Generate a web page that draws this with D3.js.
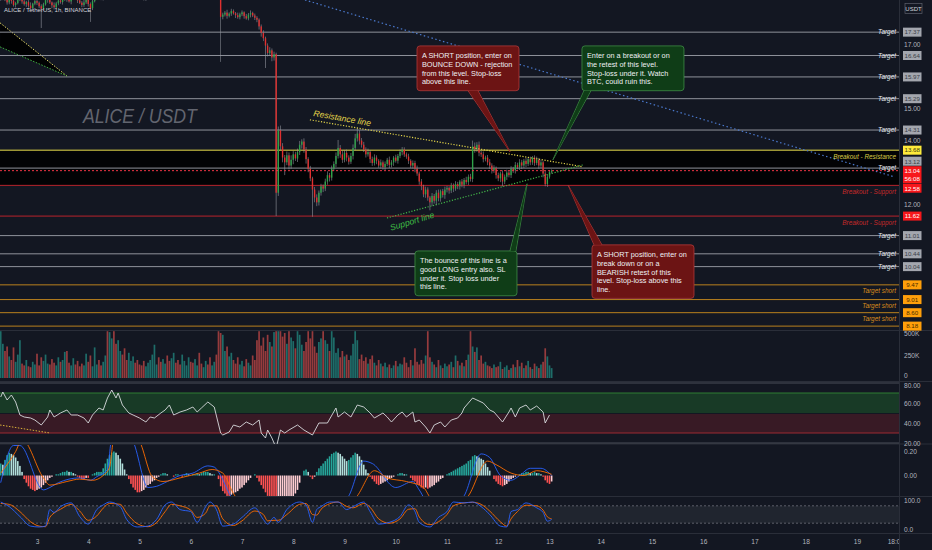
<!DOCTYPE html>
<html>
<head>
<meta charset="utf-8">
<script src="https://cdn.jsdelivr.net/npm/d3@7"></script>
<style>
html, body { margin: 0; padding: 0; background: #131722; }
svg { display: block; font-family: "Liberation Sans", Arial, sans-serif; }
</style>
</head>
<body>
<svg id="chart" width="932" height="550"></svg>
<script>
// ---- data (hourly candles, first one at day 2 07:00) ----
var firstHour = 7, firstOpen = 18.40
var closes = [
  18.45, 18.52, 18.38, 18.30, 18.41, 18.35, 18.22, 18.28, 18.40, 18.46,
  18.33, 18.25, 18.31, 18.20, 18.12, 18.26, 18.34, 18.29, 18.18, 18.10,
  18.24, 18.37, 18.44, 18.30, 18.21, 18.15, 18.27, 18.36, 18.31, 18.40,
  18.48, 18.39, 18.33, 18.45, 18.52, 18.43, 18.36, 18.29, 18.22, 18.30,
  18.41, 18.25, 18.12, 18.34, 18.50, 18.58, 18.49, 18.42, 18.55, 18.61,
  18.52, 18.66, 18.72, 18.60, 18.55, 18.68, 18.80, 18.75, 18.64, 18.58,
  18.70, 18.83, 18.90, 18.78, 18.69, 18.61, 18.50, 18.42, 18.55, 18.63,
  18.71, 18.84, 18.95, 19.02, 18.91, 18.87, 18.98, 19.10, 19.05, 18.96,
  19.08, 19.20, 19.14, 19.03, 18.97, 19.06, 19.12, 19.18, 19.25, 19.11,
  19.02, 19.09, 19.16, 19.04, 18.93, 18.99, 19.07, 18.95, 18.88, 18.97,
  19.03, 18.92, 18.90, 17.85, 17.92, 17.98, 17.88, 17.95, 18.03, 17.96,
  17.90, 17.84, 17.93, 17.99, 17.87, 17.80, 17.92, 17.97, 17.89, 17.82,
  17.76, 17.55, 17.35, 17.18, 16.95, 16.72, 16.80, 16.58, 16.68, 12.35,
  14.30, 13.80, 13.45, 13.30, 13.52, 13.20, 13.38, 13.55, 13.42, 13.62,
  13.85, 13.95, 13.70, 13.40, 13.10, 12.80, 12.45, 12.20, 12.05, 12.35,
  12.55, 12.48, 12.70, 12.90, 12.82, 13.10, 13.25, 13.50, 13.75, 13.55,
  13.38, 13.60, 13.45, 13.32, 13.50, 13.75, 14.05, 14.20, 13.98, 13.85,
  13.70, 13.55, 13.62, 13.40, 13.28, 13.45, 13.35, 13.20, 13.30, 13.15,
  13.25, 13.38, 13.22, 13.30, 13.45, 13.35, 13.50, 13.62, 13.70, 13.55,
  13.48, 13.35, 13.20, 13.28, 13.10, 12.95, 12.70, 12.55, 12.30, 12.45,
  12.20, 12.05, 12.25, 12.10, 12.35, 12.18, 12.40, 12.28, 12.45, 12.50,
  12.42, 12.58, 12.48, 12.62, 12.55, 12.70, 12.60, 12.75, 12.68, 12.85,
  12.78, 13.80, 13.72, 13.85, 13.60, 13.55, 13.40, 13.45, 13.30, 13.20,
  13.05, 13.12, 12.90, 12.80, 12.95, 12.70, 12.85, 12.98, 12.90, 13.10,
  13.05, 13.22, 13.15, 13.30, 13.20, 13.35, 13.25, 13.40, 13.30, 13.45,
  13.28, 13.38, 13.20, 13.30, 12.95, 12.62, 12.85, 13.00, 13.04
]
// wick lengths above / below the body, in cents
var wickUp = [
  6,4,8,5,3,7,9,4,6,5, 8,5,4,6,10,3,5,7,4,6, 5,8,4,6,3,9,5,4,7,6, 4,6,8,5,7,4,3,6,5,8,
  6,4,5,9,3,7,5,6,4,8, 7,5,9,6,4,8,5,7,6,4, 5,8,6,4,7,5,9,3,6,5, 4,7,5,8,6,3,5,9,4,6,
  8,5,6,4,7,5,3,6,8,4, 5,7,4,6,9,5,3,8,6,5, 6,4,8,10,6,5,9,4,7,5, 4,8,5,6,3,7,5,8,4,6,
  5,4,6,8,5,7,10,6,8,5, 12,15,10,8,12,9,14,10,8,11, 12,7,10,8,6,9,5,8,10,7, 8,6,9,12,7,10,8,11,25,9,
  12,8,10,7,9,11,14,18,10,8, 9,7,11,6,8,10,7,5,9,6, 8,6,10,7,5,9,6,8,8,7, 6,9,5,8,7,10,6,8,5,9,
  7,5,9,6,8,10,5,7,9,6, 5,8,6,9,7,5,8,6,10,7, 9,18,12,8,10,7,9,6,8,10, 7,9,5,8,6,10,7,9,5,8,
  6,9,7,10,8,6,9,7,8,5, 7,10,6,8,5,9,7,6,4
]
var wickDn = [
  5,8,4,7,6,9,5,8,4,6, 7,5,9,6,4,8,5,7,6,60, 6,4,8,5,9,7,4,6,5,8, 5,7,4,9,6,5,8,4,7,6,
  5,8,43,6,4,7,9,5,6,4, 8,5,6,9,4,7,6,5,8,6, 7,4,6,8,5,9,4,6,7,5, 6,8,4,7,5,9,6,4,8,5,
  4,7,6,5,9,6,8,4,5,7, 8,5,7,4,6,9,5,7,4,6, 6,7,5,141,8,6,9,5,7,4, 9,5,7,6,8,4,6,9,5,7,
  8,10,12,9,70,11,9,12,10,73, 10,12,15,40,9,12,10,14,8,11, 9,12,10,14,11,9,85,15,12,10, 9,11,8,10,12,9,7,10,8,11,
  10,8,12,9,7,11,8,10,12,9, 8,10,7,12,9,8,11,7,10,8, 9,7,10,8,11,6,9,7,10,8, 7,10,8,9,11,7,10,12,9,11,
  10,25,12,9,14,10,11,8,12,9, 10,8,11,7,9,10,8,11,7,9, 8,10,12,9,11,8,10,7,9,11, 10,8,11,9,12,15,8,10,7,9,
  8,10,7,9,11,8,10,7,9,8, 9,7,10,8,12,7,9,6,5
]
// volume, thousands
var volumes = [
  520,380,300,350,240,200,340,180,260,420, 160,140,200,130,120,180,150,270,140,230,
  190,260,160,150,210,170,140,230,180,200, 290,300,170,140,220,150,190,130,160,140,
  270,180,250,130,340,150,200,140,180,250, 520,510,440,520,380,420,300,260,330,200,
  280,190,240,170,200,150,140,190,130,170, 200,260,370,150,230,180,210,160,250,190,
  220,280,170,200,150,260,190,140,230,180, 170,210,140,280,160,120,190,150,230,140,
  180,260,520,500,480,300,350,240,280,200, 160,230,150,190,130,210,170,140,250,200,
  420,520,360,450,300,480,400,350,510,520, 520,520,460,500,380,520,450,410,330,520,
  480,370,300,400,520,440,520,350,280,400, 440,520,420,380,300,520,450,280,330,230,
  300,240,260,200,250,380,520,420,210,260, 190,230,160,210,250,170,140,200,160,130,
  170,120,150,110,140,190,130,160,150,230, 170,120,200,140,330,180,150,200,160,250,
  520,230,180,150,120,200,140,110,160,130, 150,180,120,250,190,140,170,130,200,260,
  520,350,290,340,200,250,160,180,140,130, 110,150,120,130,180,100,120,140,90,110,
  150,120,200,130,170,110,140,190,120,100, 160,130,110,150,180,330,240,140,110
]
var macdHist = [
  0.10,0.09,0.13,0.17,0.19,0.18,0.17,0.15,0.12,0.08, 0.03,-0.03,-0.06,-0.09,-0.11,-0.12,-0.13,-0.12,-0.11,-0.10,
  -0.08,-0.06,-0.04,-0.02,-0.01,0.00,0.01,0.01,0.02,0.03, 0.03,0.04,0.03,0.03,0.02,0.01,-0.01,-0.02,-0.03,-0.03,
  -0.02,-0.02,0.00,0.01,0.02,0.03,0.03,0.03,0.06,0.10, 0.14,0.17,0.19,0.20,0.19,0.17,0.14,0.10,0.05,0.01,
  -0.03,-0.07,-0.10,-0.12,-0.14,-0.14,-0.13,-0.12,-0.10,-0.08, -0.07,-0.05,-0.04,-0.02,-0.01,0.01,0.02,0.02,0.01,0.00,
  0.00,-0.01,0.01,0.01,0.00,-0.01,0.01,0.02,0.01,0.00, 0.01,0.01,0.02,0.01,0.02,0.03,0.03,0.03,0.02,0.01,
  0.01,0.00,-0.03,-0.09,-0.13,-0.15,-0.17,-0.17,-0.16,-0.15, -0.14,-0.13,-0.11,-0.10,-0.08,-0.06,-0.04,-0.02,0.00,0.01,
  -0.02,-0.05,-0.08,-0.11,-0.14,-0.17,-0.19,-0.21,-0.22,-0.40, -0.35,-0.33,-0.30,-0.28,-0.25,-0.22,-0.20,-0.18,-0.15,-0.12,
  -0.06,0.00,0.04,0.05,0.03,-0.01,-0.03,-0.01,0.03,0.06, 0.08,0.10,0.12,0.14,0.16,0.18,0.19,0.20,0.19,0.18,
  0.16,0.14,0.12,0.13,0.15,0.17,0.19,0.18,0.16,0.13, 0.09,0.05,0.02,-0.01,-0.03,-0.05,-0.07,-0.08,-0.07,-0.06,
  -0.05,-0.04,-0.03,-0.02,-0.01,0.00,0.01,0.02,0.02,0.01, 0.01,0.00,-0.02,-0.04,-0.05,-0.07,-0.08,-0.10,-0.11,-0.10,
  -0.11,-0.10,-0.09,-0.08,-0.06,-0.05,-0.03,-0.02,0.00,0.01, 0.02,0.03,0.04,0.05,0.06,0.07,0.08,0.09,0.10,0.12,
  0.13,0.16,0.17,0.16,0.15,0.14,0.13,0.10,0.07,0.04, 0.00,-0.03,-0.05,-0.07,-0.08,-0.09,-0.08,-0.07,-0.05,-0.03,
  -0.02,-0.01,0.00,0.01,0.02,0.02,0.03,0.03,0.02,0.02, 0.03,0.02,0.02,0.01,-0.01,-0.04,-0.06,-0.07,-0.05
]
var macdHours = [7,13,16,27,30,34,44,49,52,57,59,68,76,80,85,91,97,104,107,110,114,121,161,170,177,181,192,200,203,208,220,224,232,236,241,246,250,255,260,265]
var macdValues = [-0.06,0.25,0.25,-0.12,-0.10,-0.06,-0.02,-0.04,-0.01,0.05,0.30,0.30,-0.10,-0.09,-0.05,0.00,0.02,0.08,0.07,0.00,-0.15,-0.30,-0.30,-0.17,0.12,0.10,-0.10,-0.05,-0.12,-0.25,-0.25,-0.17,0.18,0.15,0.00,-0.04,0.00,0.06,0.06,0.00]
var signalHours = [7,14,17,27,30,38,44,50,55,58,60,71,78,83,91,100,106,111,116,124,168,174,182,188,197,205,209,222,226,235,239,246,252,258,265]
var signalValues = [0.02,0.20,0.30,-0.02,-0.08,-0.05,-0.03,-0.04,0.00,0.07,0.30,0.30,-0.01,-0.05,-0.02,0.02,0.05,0.02,-0.15,-0.30,-0.30,-0.17,0.04,-0.02,-0.05,-0.10,-0.20,-0.25,-0.17,0.12,0.09,0.02,0.00,0.04,0.01]
var rsiHours = [7,8,10,12,14,16,18,21,23,26,29,30,32,35,38,40,43,46,48,50,53,55,57,59,61,62,64,67,69,72,75,77,79,82,84,86,88,91,94,97,99,101,104,107,110,111,114,116,119,122,125,128,129,131,132,134,136,138,140,142,146,149,153,156,160,164,165,168,171,174,177,180,182,186,188,190,193,195,197,200,201,203,206,208,210,213,215,218,221,223,224,228,230,233,236,238,240,242,245,246,248,250,253,255,258,261,262,264]
var rsiValues = [66,71,63,68,61,48,46,45,43,38,46,53,46,50,53,48,48,45,40,48,55,53,65,73,65,70,58,50,48,45,41,46,45,50,53,58,48,51,53,56,51,55,61,56,30,28,31,38,36,41,38,43,30,25,33,25,15,33,30,33,38,33,28,40,40,55,46,51,46,58,56,50,45,50,46,41,48,51,46,51,41,43,36,30,38,41,36,43,45,50,55,65,63,60,53,51,46,41,51,55,46,55,58,53,57,51,40,48]
var stochHours = [7,11,16,21,25,28,30,32,35,40,44,48,52,55,58,63,66,71,76,80,84,87,91,96,99,103,105,108,111,116,120,126,130,132,135,137,141,147,150,153,155,157,161,165,169,172,177,180,184,189,194,198,201,203,208,212,216,219,224,228,232,236,241,244,246,249,253,258,261,263,265]
var stochK = [93,77,43,10,7,10,67,57,77,90,43,17,67,83,93,77,33,7,10,33,83,93,67,60,23,77,93,67,10,17,40,73,33,17,40,23,67,93,83,23,67,77,93,93,67,77,93,60,17,23,43,83,60,23,7,40,60,93,90,93,77,50,10,7,60,67,90,73,57,27,33]
var stochD = [88,85,60,25,10,8,40,55,68,85,62,30,45,72,88,85,55,18,8,22,60,85,80,65,40,55,80,80,35,12,28,62,50,28,30,30,50,85,88,50,48,68,87,93,78,73,88,75,35,20,35,68,70,42,15,25,50,80,90,92,85,62,25,10,35,60,82,80,65,42,35]

var dayTicks = [3, 4, 5, 6, 7, 8, 9, 10, 11, 12, 13, 14, 15, 16, 17, 18, 19]
var lastTickHour = 426
var xTickLabels = ["3", "4", "5", "6", "7", "8", "9", "10", "11", "12", "13", "14", "15", "16", "17", "18", "19", "18:00"]
var priceTicks = [12, 13, 14, 15, 16, 17]

var targetLevels = [17.37, 16.64, 15.97, 15.29, 14.31, 13.12, 11.01, 10.44, 10.04]
var resistanceLevels = [13.68]
var supportLevels = [12.58, 11.62]
var shortTargetLevels = [9.47, 9.01, 8.60, 8.18]
var lastPrice = 13.04, countdown = "56:08"

// drawings anchored at [hour, price]
var resistanceLine = [[151.8, 14.63], [279.7, 13.16]]
var supportLine = [[187.9, 11.56], [279.7, 13.22]]
var blueTrend = [[149.5, 18.375], [425.8, 12.84]]
var wedgeUpper = [[6.7, 17.66], [38, 16.0]]
var wedgeLower = [[6.7, 16.91], [38, 16.0]]
var rsiTrend = [[6.7, 38], [30.1, 30]]

var noteShortTop = ["A SHORT position, enter on", "BOUNCE DOWN - rejection", "from this level. Stop-loss", "above this line."]
var noteLongTop = ["Enter on a breakout or on", "the retest of this level.", "Stop-loss under it. Watch", "BTC, could ruin this."]
var noteLongBottom = ["The bounce of this line is a", "good LONG entry also. SL", "under it. Stop loss under", "this line."]
var noteShortBottom = ["A SHORT position, enter on", "break down or on a", "BEARISH retest of this", "level. Stop-loss above this", "line."]
var noteBoxAnchors = [[201.95, 16.94], [279.2, 16.94], [201.0, 10.53], [283.9, 10.72]]
var noteTipAnchors = [[245.5, 13.63], [265.6, 13.38], [253.5, 12.63], [272.7, 12.59]]

// ---- chart ----
var W = 932, H = 550, axisX = 899

var svg = d3.select("#chart")
svg.append("rect").attr("width", W).attr("height", H).attr("fill", "#131722")

var x = d3.scaleLinear().domain([24, 408]).range([37, 857])
var y = d3.scaleLinear().domain([8.09, 18.375]).range([329, 0])
var yVol = d3.scaleLinear().domain([0, 500]).range([378, 333])
var yRsi = d3.scaleLinear().domain([20, 80]).range([443, 383])
var yMacd = d3.scaleLinear().domain([0, 0.2]).range([475.5, 451.5])
var yStoch = d3.scaleLinear().domain([0, 100]).range([529, 500])

var defs = svg.append("defs")
function clip(id, y0, y1, w) {
    defs.append("clipPath").attr("id", id)
        .append("rect").attr("x", 0).attr("y", y0).attr("width", w || axisX).attr("height", y1 - y0)
}
clip("cPrice", 0, 330); clip("cVol", 331, 381); clip("cRsi", 382, 444)
clip("cMacd", 445, 496); clip("cStoch", 497, 533); clip("cX", 533, 550)

var candles = closes.map(function (c, i) {
    var o = i === 0 ? firstOpen : closes[i - 1]
    return {
        t: firstHour + i, o: o, c: c,
        hi: Math.max(o, c) + wickUp[i] / 100,
        lo: Math.min(o, c) - wickDn[i] / 100,
        v: volumes[i], m: macdHist[i], up: c >= o
    }
})
var bw = 1.4

// pane separators
;[330.5, 381.5, 444, 496.5, 533.5].forEach(function (yy) {
    svg.append("line").attr("x1", 0).attr("x2", W).attr("y1", yy).attr("y2", yy)
        .attr("stroke", "#2a2e39").attr("stroke-width", 1)
})
svg.append("line").attr("x1", axisX + 0.5).attr("x2", axisX + 0.5).attr("y1", 0).attr("y2", 550)
    .attr("stroke", "#2a2e39")

// ---- price pane ----
var gp = svg.append("g").attr("clip-path", "url(#cPrice)")

// dark band between resistance and support
gp.append("rect").attr("x", 0).attr("width", axisX)
    .attr("y", y(resistanceLevels[0])).attr("height", y(supportLevels[0]) - y(resistanceLevels[0]))
    .attr("fill", "#000").attr("opacity", 0.85)

var line2 = d3.line().x(function (d) { return x(d[0]) }).y(function (d) { return y(d[1]) })

// top-left wedge
gp.append("path").attr("d", line2(wedgeUpper.concat([wedgeLower[0]])))
    .attr("fill", "#000").attr("opacity", 0.9)
gp.append("path").attr("d", line2(wedgeUpper))
    .attr("stroke", "#e8df6a").attr("stroke-dasharray", "1.5,1.5").attr("fill", "none")
gp.append("path").attr("d", line2(wedgeLower))
    .attr("stroke", "#3fae3f").attr("stroke-dasharray", "1.5,1.5").attr("fill", "none")

function hline(p, color, dash) {
    gp.append("line").attr("x1", 0).attr("x2", axisX).attr("y1", y(p)).attr("y2", y(p))
        .attr("stroke", color).attr("stroke-width", 1).attr("stroke-dasharray", dash || null)
}
targetLevels.forEach(function (p) { hline(p, "#8f929b") })
resistanceLevels.forEach(function (p) { hline(p, "#e8dc4a") })
supportLevels.forEach(function (p) { hline(p, "#b8232b") })
shortTargetLevels.forEach(function (p) { hline(p, "#b9801e") })

// blue trend line
gp.append("path").attr("d", line2(blueTrend)).attr("fill", "none")
    .attr("stroke", "#4a78cc").attr("stroke-width", 1.2).attr("stroke-dasharray", "1.5,2.5")

// watermark
gp.append("text").attr("x", x(45.5)).attr("y", y(14.53))
    .attr("font-size", 20).attr("font-style", "italic").attr("fill", "#62656f")
    .attr("textLength", 114).attr("lengthAdjust", "spacingAndGlyphs")
    .text("ALICE / USDT")

// candles
var gc = gp.append("g")
gc.selectAll("line.wick").data(candles).enter().append("line")
    .attr("class", "wick")
    .attr("x1", function (d) { return x(d.t) }).attr("x2", function (d) { return x(d.t) })
    .attr("y1", function (d) { return y(d.hi) }).attr("y2", function (d) { return y(d.lo) })
    .attr("stroke", "#9598a1").attr("stroke-width", 0.7).attr("opacity", 0.85)
gc.selectAll("rect.body").data(candles).enter().append("rect")
    .attr("class", "body")
    .attr("x", function (d) { return x(d.t) - bw / 2 }).attr("width", bw)
    .attr("y", function (d) { return y(Math.max(d.o, d.c)) })
    .attr("height", function (d) { return Math.max(1, Math.abs(y(d.o) - y(d.c))) })
    .attr("fill", function (d) { return d.up ? "#2fa24a" : "#e0302f" })

// current price line
hline(lastPrice, "#f23645", "2,2")

// resistance / support trendlines
gp.append("path").attr("d", line2(resistanceLine)).attr("fill", "none")
    .attr("stroke", "#e3d54a").attr("stroke-width", 1.2).attr("stroke-dasharray", "1.2,1.6")
gp.append("path").attr("d", line2(supportLine)).attr("fill", "none")
    .attr("stroke", "#43b649").attr("stroke-width", 1.2).attr("stroke-dasharray", "1.2,1.6")
gp.append("text").attr("transform", "translate(" + x(153.3) + "," + y(14.75) + ") rotate(10)")
    .attr("font-size", 8.6).attr("font-style", "italic").attr("fill", "#e3d54a").text("Resistance line")
gp.append("text").attr("transform", "translate(" + x(189.8) + "," + y(11.16) + ") rotate(-17)")
    .attr("font-size", 8.6).attr("font-style", "italic").attr("fill", "#3fbf46").text("Support line")

// line captions on the right
function caption(p, txt, color, below) {
    gp.append("text").attr("x", axisX - 3).attr("y", y(p) + (below ? 8.5 : 2.3))
        .attr("text-anchor", "end").attr("font-size", 6.4).attr("font-style", "italic")
        .attr("fill", color).text(txt)
}
targetLevels.forEach(function (p) { caption(p, "Target", "#e6e8ee", false) })
resistanceLevels.forEach(function (p) { caption(p, "Breakout - Resistance", "#d9cc45", true) })
supportLevels.forEach(function (p) { caption(p, "Breakout - Support", "#c42a2a", true) })
shortTargetLevels.forEach(function (p) { caption(p, "Target short", "#d98c1c", true) })

// callouts
var noteStyles = [
    { lines: noteShortTop, fill: "#6c1414", stroke: "#b03a3a", edge: "bottom", base: [51, 61] },
    { lines: noteLongTop, fill: "#0f3d17", stroke: "#3f8e45", edge: "bottom", base: [2, 9] },
    { lines: noteLongBottom, fill: "#0f3d17", stroke: "#3f8e45", edge: "top", base: [95, 101] },
    { lines: noteShortBottom, fill: "#6c1414", stroke: "#b03a3a", edge: "top", base: [2, 10] }
]
var gn = svg.append("g")
noteStyles.forEach(function (s, i) {
    var bx = x(noteBoxAnchors[i][0]), by = y(noteBoxAnchors[i][1])
    var tx = x(noteTipAnchors[i][0]), ty = y(noteTipAnchors[i][1])
    var bwid = 102, bh = 10 + s.lines.length * 8.7
    var ey = s.edge === "bottom" ? by + bh : by
    var tri = [[bx + s.base[0], ey], [tx, ty], [bx + s.base[1], ey]]
    gn.append("path").attr("d", d3.line()(tri)).attr("fill", s.fill).attr("stroke", s.stroke).attr("stroke-width", 0.8)
    gn.append("rect").attr("x", bx).attr("y", by).attr("width", bwid).attr("height", bh)
        .attr("rx", 3).attr("fill", s.fill).attr("stroke", s.stroke).attr("stroke-width", 0.8)
    gn.append("path").attr("d", d3.line()([[bx + s.base[0] + 0.6, ey], [tx, ty], [bx + s.base[1] - 0.6, ey]]))
        .attr("fill", s.fill)
    var t = gn.append("text").attr("font-size", 7.3).attr("fill", "#eef0f3")
    s.lines.forEach(function (ln, k) {
        t.append("tspan").attr("x", bx + 5).attr("y", by + 12.3 + k * 8.7).text(ln)
    })
})

// header
svg.append("text").attr("x", 4).attr("y", 12).attr("font-size", 6).attr("fill", "#d1d4dc")
    .text("ALICE / TetherUS, 1h, BINANCE")

// ---- volume pane ----
var gv = svg.append("g").attr("clip-path", "url(#cVol)")
gv.selectAll("rect").data(candles).enter().append("rect")
    .attr("x", function (d) { return x(d.t) - 0.85 }).attr("width", 1.7)
    .attr("y", function (d) { return yVol(d.v) })
    .attr("height", function (d) { return yVol(0) - yVol(d.v) })
    .attr("fill", function (d) { return d.up ? "#26a69a" : "#ef5350" }).attr("opacity", 0.6)

// ---- RSI pane ----
var gr = svg.append("g").attr("clip-path", "url(#cRsi)")
gr.append("rect").attr("x", 0).attr("width", axisX).attr("y", yRsi(70)).attr("height", yRsi(50) - yRsi(70))
    .attr("fill", "#1f6b2e").attr("opacity", 0.42)
gr.append("rect").attr("x", 0).attr("width", axisX).attr("y", yRsi(50) + 1).attr("height", yRsi(30) - yRsi(50) - 1)
    .attr("fill", "#6b1f2a").attr("opacity", 0.42)
gr.append("line").attr("x1", 0).attr("x2", axisX).attr("y1", yRsi(70)).attr("y2", yRsi(70)).attr("stroke", "#2e7d32")
gr.append("line").attr("x1", 0).attr("x2", axisX).attr("y1", yRsi(30)).attr("y2", yRsi(30)).attr("stroke", "#9c2a33")
;[80, 20].forEach(function (v) {
    gr.append("line").attr("x1", 0).attr("x2", W).attr("y1", yRsi(v)).attr("y2", yRsi(v)).attr("stroke", "#4a4e59")
})
gr.append("path").attr("d", d3.line().x(function (d) { return x(d[0]) }).y(function (d) { return yRsi(d[1]) })(rsiTrend))
    .attr("fill", "none").attr("stroke", "#d9b13a").attr("stroke-dasharray", "1.5,1.5")
gr.append("path")
    .attr("d", d3.line().x(function (d, i) { return x(rsiHours[i]) }).y(function (d) { return yRsi(d) })(rsiValues))
    .attr("fill", "none").attr("stroke", "#d8dade").attr("stroke-width", 0.9)

// ---- MACD pane ----
var gm = svg.append("g").attr("clip-path", "url(#cMacd)")
gm.selectAll("rect").data(candles).enter().append("rect")
    .attr("x", function (d) { return x(d.t) - 0.8 }).attr("width", 1.6)
    .attr("y", function (d) { return Math.min(yMacd(0), yMacd(d.m)) })
    .attr("height", function (d) { return Math.abs(yMacd(d.m) - yMacd(0)) })
    .attr("fill", function (d, i) {
        var prev = i ? candles[i - 1].m : d.m
        if (d.m >= 0) return d.m >= prev ? "#26a69a" : "#b2dfdb"
        return d.m <= prev ? "#ff5252" : "#ffcdd2"
    })
gm.append("path")
    .attr("d", d3.line().curve(d3.curveMonotoneX).x(function (d, i) { return x(macdHours[i]) }).y(function (d) { return yMacd(d) })(macdValues))
    .attr("fill", "none").attr("stroke", "#2962ff").attr("stroke-width", 0.9)
gm.append("path")
    .attr("d", d3.line().curve(d3.curveMonotoneX).x(function (d, i) { return x(signalHours[i]) }).y(function (d) { return yMacd(d) })(signalValues))
    .attr("fill", "none").attr("stroke", "#ff6d00").attr("stroke-width", 0.9)

// ---- Stoch pane ----
var gs = svg.append("g").attr("clip-path", "url(#cStoch)")
gs.append("rect").attr("x", 0).attr("width", axisX).attr("y", yStoch(80)).attr("height", yStoch(20) - yStoch(80))
    .attr("fill", "#2a2e39").attr("opacity", 0.6)
;[80, 20].forEach(function (v) {
    gs.append("line").attr("x1", 0).attr("x2", axisX).attr("y1", yStoch(v)).attr("y2", yStoch(v))
        .attr("stroke", "#787b86").attr("stroke-dasharray", "2,2").attr("stroke-width", 0.7)
})
gs.append("path")
    .attr("d", d3.line().curve(d3.curveMonotoneX).x(function (d, i) { return x(stochHours[i]) }).y(function (d) { return yStoch(d) })(stochD))
    .attr("fill", "none").attr("stroke", "#ff6d00").attr("stroke-width", 0.9)
gs.append("path")
    .attr("d", d3.line().curve(d3.curveMonotoneX).x(function (d, i) { return x(stochHours[i]) }).y(function (d) { return yStoch(d) })(stochK))
    .attr("fill", "none").attr("stroke", "#2962ff").attr("stroke-width", 0.9)

// ---- axes ----
function styleAxis(g) {
    g.select(".domain").remove()
    g.selectAll("text").attr("fill", "#b2b5be").attr("font-size", 6.6)
        .attr("font-family", "Liberation Sans, Arial, sans-serif")
}
svg.append("g").attr("transform", "translate(" + axisX + ",0)")
    .call(d3.axisRight(y).tickValues(priceTicks).tickFormat(d3.format(".2f")).tickSize(0).tickPadding(5))
    .call(styleAxis)
svg.append("g").attr("transform", "translate(" + axisX + ",0)")
    .call(d3.axisRight(yVol).tickValues([0, 250, 500]).tickFormat(function (d) { return d ? d + "K" : "0" }).tickSize(0).tickPadding(5))
    .call(styleAxis)
    .selectAll(".tick").filter(function (d) { return d === 0 }).select("text").attr("dy", "-0.1em")
svg.append("g").attr("transform", "translate(" + axisX + ",0)")
    .call(d3.axisRight(yRsi).tickValues([20, 40, 60, 80]).tickFormat(d3.format(".2f")).tickSize(0).tickPadding(5))
    .call(styleAxis)
    .selectAll(".tick").filter(function (d) { return d === 80 }).select("text").attr("dy", "0.75em")
svg.append("g").attr("transform", "translate(" + axisX + ",0)")
    .call(d3.axisRight(yMacd).tickValues([0, 0.2]).tickFormat(d3.format(".2f")).tickSize(0).tickPadding(5))
    .call(styleAxis)
svg.append("g").attr("transform", "translate(" + axisX + ",0)")
    .call(d3.axisRight(yStoch).tickValues([0, 100]).tickFormat(d3.format(".1f")).tickSize(0).tickPadding(5))
    .call(styleAxis)
svg.append("g").attr("clip-path", "url(#cX)")
  .append("g").attr("transform", "translate(0,534)")
    .call(d3.axisBottom(x).tickValues(dayTicks.map(function (d) { return (d - 2) * 24 }).concat([lastTickHour]))
        .tickFormat(function (d, i) { return xTickLabels[i] }).tickSize(0).tickPadding(5))
    .call(styleAxis)

// USDT box
svg.append("rect").attr("x", 905).attr("y", 3.5).attr("width", 17).attr("height", 10)
    .attr("fill", "#131722").attr("stroke", "#5d606b").attr("stroke-width", 0.7)
svg.append("text").attr("x", 913.5).attr("y", 10.8).attr("text-anchor", "middle")
    .attr("font-size", 6).attr("fill", "#d1d4dc").text("USDT")

// price labels on the axis, spread so they don't overlap
var labels = []
targetLevels.forEach(function (p) { labels.push({ p: p, h: 9, bg: "#a3a6ae", fg: "#3b3e48", t: [p.toFixed(2)] }) })
resistanceLevels.forEach(function (p) { labels.push({ p: p, h: 9, bg: "#ffeb3b", fg: "#3b3a10", t: [p.toFixed(2)] }) })
supportLevels.forEach(function (p) { labels.push({ p: p, h: 9, bg: "#f7171b", fg: "#ffffff", t: [p.toFixed(2)] }) })
shortTargetLevels.forEach(function (p) { labels.push({ p: p, h: 9, bg: "#ff9f0a", fg: "#4a2d00", t: [p.toFixed(2)] }) })
labels.push({ p: lastPrice, h: 17, bg: "#f7171b", fg: "#ffffff", t: [lastPrice.toFixed(2), countdown] })
labels.forEach(function (d) { d.y = y(d.p) })
labels.sort(function (a, b) { return a.y - b.y })
var gap = 0.5, groups = []
labels.forEach(function (it) {
    groups.push({ items: [it], top: it.y - it.h / 2, size: it.h })
    while (groups.length > 1) {
        var a = groups[groups.length - 2], b = groups[groups.length - 1]
        if (a.top + a.size + gap <= b.top) break
        var items = a.items.concat(b.items), off = 0, sum = 0
        items.forEach(function (d) { sum += d.y - (off + d.h / 2); off += d.h + gap })
        groups.splice(groups.length - 2, 2, { items: items, top: sum / items.length, size: off - gap })
    }
})
var gl = svg.append("g")
groups.forEach(function (g) {
    var off = g.top
    g.items.forEach(function (d) {
        gl.append("rect").attr("x", 903).attr("y", off).attr("width", 18.5).attr("height", d.h).attr("fill", d.bg)
        d.t.forEach(function (s, k) {
            gl.append("text").attr("x", 912.2).attr("y", off + 6.8 + k * 8).attr("text-anchor", "middle")
                .attr("font-size", 6.2).attr("fill", d.fg).text(s)
        })
        off += d.h + gap
    })
})
</script>
</body>
</html>
